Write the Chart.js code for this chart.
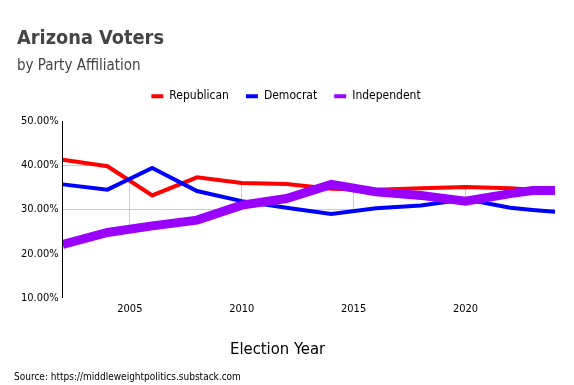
<!DOCTYPE html>
<html>
<head>
<meta charset="utf-8">
<script src="https://cdn.jsdelivr.net/npm/chart.js@4.4.1/dist/chart.umd.min.js"></script>
<style>
  body { margin: 0; background: #fff; }
  #wrap { position: relative; width: 574px; height: 385px; }
  .note { position: absolute; font-family: "DejaVu Sans Condensed", "DejaVu Sans", sans-serif; color: #000; white-space: nowrap; }
  #xtitle { left: 230px; top: 339px; font-size: 16.5px; }
  #source { left: 14px; top: 371px; font-size: 10px; }
</style>
</head>
<body>
<div id="wrap">
  <canvas id="chart"></canvas>
  <div class="note" id="xtitle">Election Year</div>
  <div class="note" id="source">Source: https://middleweightpolitics.substack.com</div>
</div>
<script>
const years = [2002, 2004, 2006, 2008, 2010, 2012, 2014, 2016, 2018, 2020, 2022, 2023, 2024];
const republican = [41.3, 39.8, 33.2, 37.3, 36.0, 35.8, 34.7, 34.5, 34.8, 35.1, 34.8, 34.5, 34.4];
const democrat = [35.7, 34.5, 39.4, 34.2, 31.9, 30.4, 29.0, 30.3, 30.9, 32.3, 30.4, 29.9, 29.5];
const independent = [22.1, 24.8, 26.3, 27.6, 31.0, 32.5, 35.7, 34.0, 33.2, 31.9, 33.6, 34.3, 34.3];
const yTicks = [10, 20, 30, 40, 50];
const xTicks = [2005, 2010, 2015, 2020];

const FONT = '"DejaVu Sans Condensed", "DejaVu Sans", sans-serif';
Chart.defaults.font.family = FONT;
Chart.defaults.color = '#000';

const series = [republican, democrat, independent];
const pairs = s => years.map((y, i) => ({ x: y, y: s[i] }));

// top / bottom outline of the three lines (crossings included)
function envelope(pick) {
  const pts = [];
  for (let i = 0; i < years.length - 1; i++) {
    const ts = [0];
    for (let a = 0; a < series.length; a++) {
      for (let b = a + 1; b < series.length; b++) {
        const d0 = series[a][i] - series[b][i];
        const d1 = series[a][i + 1] - series[b][i + 1];
        if (d0 * d1 < 0) ts.push(d0 / (d0 - d1));
      }
    }
    ts.sort((p, q) => p - q);
    ts.forEach(t => {
      pts.push({
        x: years[i] + (years[i + 1] - years[i]) * t,
        y: pick(...series.map(s => s[i] + (s[i + 1] - s[i]) * t))
      });
    });
  }
  const last = years.length - 1;
  pts.push({ x: years[last], y: pick(...series.map(s => s[last])) });
  return pts;
}

// grid only shows between the lines: paint white above the top and below the bottom
const gridMask = {
  id: 'gridMask',
  beforeDatasetsDraw(chart) {
    const { ctx, chartArea: a, scales: { x, y } } = chart;
    const shape = (pts, edge) => {
      ctx.beginPath();
      ctx.moveTo(a.left, edge);
      pts.forEach(p => ctx.lineTo(x.getPixelForValue(p.x), y.getPixelForValue(p.y)));
      ctx.lineTo(a.right + 2, edge);
      ctx.closePath();
      ctx.fill();
    };
    ctx.save();
    ctx.beginPath();
    ctx.rect(a.left, a.top - 3, a.width + 2, a.height + 6);
    ctx.clip();
    ctx.fillStyle = '#ffffff';
    shape(envelope(Math.max), a.top - 3);
    shape(envelope(Math.min), a.bottom + 3);
    ctx.restore();
  }
};

// a bit of room between legend and plot
const legendGap = {
  id: 'legendGap',
  beforeInit(chart) {
    Chart.layouts.addBox(chart, {
      position: 'top',
      weight: 500,
      fullSize: true,
      options: {},
      width: 0,
      height: 0,
      isHorizontal() { return true; },
      update(maxWidth) { this.width = maxWidth; this.height = 9; },
      draw() {}
    });
  }
};

new Chart(document.getElementById('chart'), {
  type: 'line',
  data: {
    datasets: [
      { label: 'Republican', data: pairs(republican), borderColor: '#ff0000', backgroundColor: '#ff0000', borderWidth: 4, pointRadius: 0, order: 3 },
      { label: 'Democrat', data: pairs(democrat), borderColor: '#0000ff', backgroundColor: '#0000ff', borderWidth: 4, pointRadius: 0, order: 2 },
      { label: 'Independent', data: pairs(independent), borderColor: '#9900ff', backgroundColor: '#9900ff', borderWidth: 9, pointRadius: 0, order: 1 }
    ]
  },
  plugins: [gridMask, legendGap],
  options: {
    responsive: true,
    maintainAspectRatio: false,
    animation: false,
    layout: { padding: { left: 17, right: 19, top: 0, bottom: 64 } },
    plugins: {
      title: {
        display: true,
        text: 'Arizona Voters',
        align: 'start',
        color: '#444',
        font: { size: 19.8, weight: 'bold' },
        padding: { top: 27, bottom: 0 }
      },
      subtitle: {
        display: true,
        text: 'by Party Affiliation',
        align: 'start',
        color: '#444',
        font: { size: 15, lineHeight: 0.9 },
        padding: { top: 9, bottom: 0 }
      },
      legend: {
        position: 'top',
        labels: {
          boxWidth: 12,
          boxHeight: 4,
          padding: 17,
          font: { size: 12 },
          sort: (a, b) => a.datasetIndex - b.datasetIndex,
          generateLabels: chart => Chart.defaults.plugins.legend.labels.generateLabels(chart)
            .map(l => Object.assign(l, { lineWidth: 0, strokeStyle: 'rgba(0,0,0,0)' }))
        }
      },
      tooltip: { enabled: false }
    },
    scales: {
      x: {
        type: 'linear',
        min: 2002,
        max: 2024,
        afterBuildTicks: axis => { axis.ticks = xTicks.map(v => ({ value: v })); },
        ticks: { font: { size: 11 }, padding: 5, callback: v => String(v) },
        grid: { color: '#cccccc', drawTicks: false },
        border: { display: false }
      },
      y: {
        min: 10,
        max: 50,
        afterBuildTicks: axis => { axis.ticks = yTicks.map(v => ({ value: v })); },
        ticks: { font: { size: 11 }, padding: 4, callback: v => v.toFixed(2) + '%' },
        grid: { color: '#cccccc', drawTicks: false },
        border: { display: true, color: '#000', width: 1, z: 1 }
      }
    }
  }
});
</script>
</body>
</html>
